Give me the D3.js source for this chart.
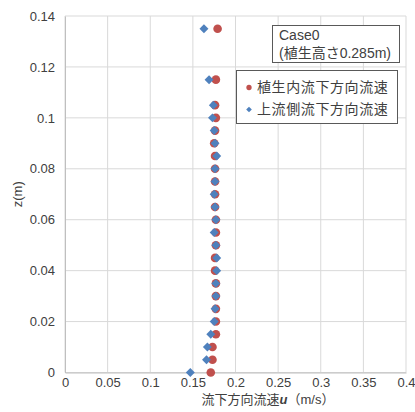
<!DOCTYPE html>
<html>
<head>
<meta charset="utf-8">
<script src="https://cdn.jsdelivr.net/npm/d3@7"></script>
<style>
	body { margin: 0; background: #fff; }
	svg text { font-family: "Liberation Sans", Arial, "Noto Sans CJK JP", sans-serif; fill: #404040; }
</style>
</head>
<body>
<div id="chart"></div>
<script>
// measured heights (m)
var zValues = [0, 0.005, 0.01, 0.015, 0.02, 0.025, 0.03, 0.035, 0.04, 0.045, 0.05, 0.055,
	0.06, 0.065, 0.07, 0.075, 0.08, 0.085, 0.09, 0.095, 0.1, 0.105, 0.115, 0.135];

// 植生内流下方向流速
var insideU = [0.171, 0.173, 0.173, 0.177, 0.177, 0.177, 0.177, 0.177, 0.176, 0.176, 0.177, 0.177,
	0.177, 0.176, 0.176, 0.176, 0.176, 0.176, 0.175, 0.176, 0.177, 0.176, 0.177, 0.179];

// 上流側流下方向流速
var upstreamU = [0.147, 0.166, 0.167, 0.171, 0.175, 0.176, 0.177, 0.177, 0.178, 0.178, 0.177, 0.175,
	0.177, 0.176, 0.175, 0.176, 0.176, 0.178, 0.176, 0.175, 0.173, 0.174, 0.169, 0.163];

var xTicks = [0, 0.05, 0.1, 0.15, 0.2, 0.25, 0.3, 0.35, 0.4];
var yTicks = [0, 0.02, 0.04, 0.06, 0.08, 0.1, 0.12, 0.14];
var seriesNames = ['植生内流下方向流速', '上流側流下方向流速'];
var caseLines = ['Case0', '(植生高さ0.285m)'];

var width = 415, height = 412;
var margin = { left: 65, right: 9, top: 16, bottom: 39.5 };
var red = '#c0504d', blue = '#4f81bd';

var svg = d3.select('#chart').append('svg')
	.attr('width', width)
	.attr('height', height);

var x = d3.scaleLinear().domain([0, 0.4]).range([margin.left, width - margin.right]);
var y = d3.scaleLinear().domain([0, 0.14]).range([height - margin.bottom, margin.top]);

// grid
svg.append('g')
	.selectAll('line')
	.data(xTicks)
	.enter().append('line')
	.attr('x1', function(d) { return x(d); })
	.attr('x2', function(d) { return x(d); })
	.attr('y1', y(0))
	.attr('y2', y(0.14))
	.attr('stroke', '#d9d9d9');

svg.append('g')
	.selectAll('line')
	.data(yTicks)
	.enter().append('line')
	.attr('x1', x(0))
	.attr('x2', x(0.4))
	.attr('y1', function(d) { return y(d); })
	.attr('y2', function(d) { return y(d); })
	.attr('stroke', '#d9d9d9');

// axes
var xAxis = svg.append('g')
	.attr('transform', 'translate(0,' + y(0) + ')')
	.call(d3.axisBottom(x).tickValues(xTicks).tickSize(0).tickPadding(5).tickFormat(d3.format('')));

var yAxis = svg.append('g')
	.attr('transform', 'translate(' + x(0) + ',0)')
	.call(d3.axisLeft(y).tickValues(yTicks).tickSize(0).tickPadding(10).tickFormat(d3.format('')));

[xAxis, yAxis].forEach(function(a) {
	a.select('.domain').attr('stroke', '#bfbfbf');
	a.selectAll('text').attr('font-size', 13).attr('fill', '#404040');
});

// axis titles
var xTitle = svg.append('text')
	.attr('x', 268)
	.attr('y', 404)
	.attr('text-anchor', 'middle')
	.attr('font-size', 13);
xTitle.append('tspan').text('流下方向流速');
xTitle.append('tspan').attr('font-style', 'italic').attr('font-weight', 'bold').text('u');
xTitle.append('tspan').text('（m/s）');

svg.append('text')
	.attr('transform', 'translate(22,' + y(0.07) + ') rotate(-90)')
	.attr('text-anchor', 'middle')
	.attr('font-size', 13)
	.text('z(m)');

// data
var diamond = d3.symbol().type(d3.symbolSquare).size(40);

svg.append('g')
	.selectAll('circle')
	.data(zValues)
	.enter().append('circle')
	.attr('cx', function(d, i) { return x(insideU[i]); })
	.attr('cy', function(d) { return y(d); })
	.attr('r', 4.3)
	.attr('fill', red);

svg.append('g')
	.selectAll('path')
	.data(zValues)
	.enter().append('path')
	.attr('d', diamond)
	.attr('transform', function(d, i) { return 'translate(' + x(upstreamU[i]) + ',' + y(d) + ') rotate(45)'; })
	.attr('fill', blue);

// case box
svg.append('rect')
	.attr('x', 272.5).attr('y', 25.5)
	.attr('width', 127).attr('height', 37)
	.attr('fill', '#fff')
	.attr('stroke', '#595959');

svg.append('g')
	.selectAll('text')
	.data(caseLines)
	.enter().append('text')
	.attr('x', 279)
	.attr('y', function(d, i) { return 40 + i * 18; })
	.attr('font-size', 14)
	.attr('fill', '#000')
	.text(function(d) { return d; });

// legend
svg.append('rect')
	.attr('x', 236.5).attr('y', 70.5)
	.attr('width', 161).attr('height', 53)
	.attr('fill', '#fff')
	.attr('stroke', '#595959');

var legend = svg.append('g')
	.selectAll('g')
	.data(seriesNames)
	.enter().append('g')
	.attr('transform', function(d, i) { return 'translate(249,' + (87.5 + i * 22) + ')'; });

legend.append('path')
	.attr('d', function(d, i) {
		return d3.symbol().type(i === 0 ? d3.symbolCircle : d3.symbolSquare).size(i === 0 ? 22 : 16)();
	})
	.attr('transform', function(d, i) { return i === 0 ? null : 'rotate(45)'; })
	.attr('fill', function(d, i) { return i === 0 ? red : blue; });

legend.append('text')
	.attr('x', 8)
	.attr('dy', '0.35em')
	.attr('font-size', 14)
	.attr('letter-spacing', 0.6)
	.text(function(d) { return d; });
</script>
</body>
</html>
